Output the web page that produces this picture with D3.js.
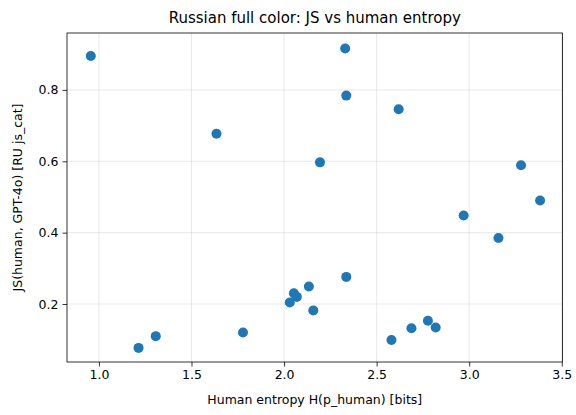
<!DOCTYPE html>
<html><head><meta charset="utf-8">
<script src="https://cdn.jsdelivr.net/npm/d3@7"></script>
<style>body{margin:0;background:#fff}svg{display:block}text{font-family:"DejaVu Sans",sans-serif;fill:#000}</style>
</head><body>
<svg id="c" width="576" height="415"></svg>
<script>
const entropy = [0.956,2.330,2.336,2.619,1.635,2.194,3.280,3.383,2.970,3.158,2.336,2.134,2.053,2.069,2.031,2.158,1.778,1.307,1.214,2.580,2.688,2.777,2.819];
const jsValues = [0.895,0.916,0.784,0.746,0.677,0.597,0.589,0.490,0.448,0.385,0.276,0.249,0.230,0.220,0.204,0.182,0.120,0.110,0.077,0.099,0.132,0.153,0.134];
const xTicks = [1.0,1.5,2.0,2.5,3.0,3.5];
const yTicks = [0.2,0.4,0.6,0.8];
const title = "Russian full color: JS vs human entropy";
const xLabel = "Human entropy H(p_human) [bits]";
const yLabel = "JS(human, GPT-4o) [RU js_cat]";

const svg = d3.select("#c");
const L=67,R=562.5,T=33,B=362;
const x = d3.scaleLinear().domain([0.8275,3.504]).range([L,R]);
const y = d3.scaleLinear().domain([0.0375,0.9595]).range([B,T]);

// grid
svg.append("g").selectAll("line").data(xTicks).join("line")
  .attr("x1",d=>x(d)).attr("x2",d=>x(d)).attr("y1",T).attr("y2",B)
  .attr("stroke","#b0b0b0").attr("stroke-opacity",0.35).attr("stroke-width",0.8);
svg.append("g").selectAll("line").data(yTicks).join("line")
  .attr("y1",d=>y(d)).attr("y2",d=>y(d)).attr("x1",L).attr("x2",R)
  .attr("stroke","#b0b0b0").attr("stroke-opacity",0.35).attr("stroke-width",0.8);

// axes
const xa = svg.append("g").attr("transform",`translate(0,${B})`)
  .call(d3.axisBottom(x).tickValues(xTicks).tickFormat(d3.format(".1f")).tickSizeOuter(0).tickSize(4.5).tickPadding(4));
const ya = svg.append("g").attr("transform",`translate(${L},0)`)
  .call(d3.axisLeft(y).tickValues(yTicks).tickFormat(d3.format(".1f")).tickSizeOuter(0).tickSize(4.5).tickPadding(4));
[xa,ya].forEach(a=>{a.select(".domain").remove();a.selectAll("text").attr("font-size",12.5).attr("font-family","DejaVu Sans").attr("fill","#000");a.selectAll("line").attr("stroke","#000").attr("stroke-width",0.8);});

// points
svg.append("g").selectAll("circle").data(entropy).join("circle")
  .attr("cx",d=>x(d)).attr("cy",(d,i)=>y(jsValues[i])).attr("r",5)
  .attr("fill","#1f77b4");

// frame
svg.append("rect").attr("x",L).attr("y",T).attr("width",R-L).attr("height",B-T)
  .attr("fill","none").attr("stroke","#000").attr("stroke-width",0.8);

svg.append("text").attr("x",(L+R)/2).attr("y",23).attr("text-anchor","middle").attr("font-size",15).text(title);
svg.append("text").attr("x",(L+R)/2).attr("y",404).attr("text-anchor","middle").attr("font-size",12.5).text(xLabel);
svg.append("text").attr("transform",`translate(22,${(T+B)/2}) rotate(-90)`).attr("text-anchor","middle").attr("font-size",12.5).text(yLabel);
</script>
</body></html>
